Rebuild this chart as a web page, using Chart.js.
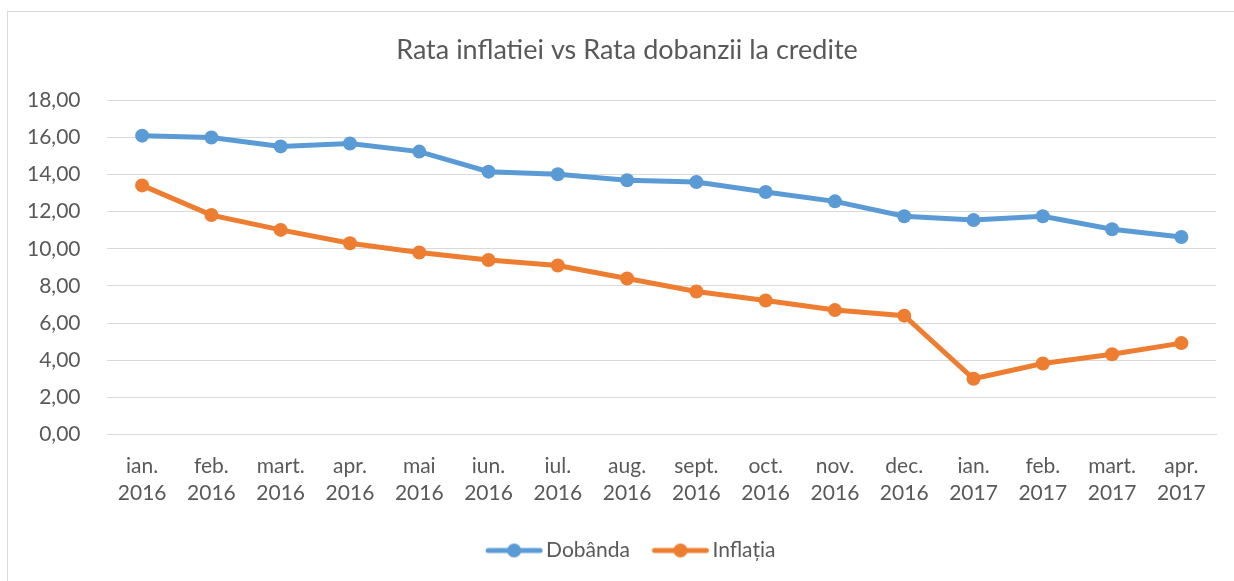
<!DOCTYPE html>
<html><head><meta charset="utf-8">
<script src="https://cdn.jsdelivr.net/npm/chart.js@4/dist/chart.umd.min.js"></script>
<style>
html,body{margin:0;padding:0;background:#fff;overflow:hidden;}
#wrap{position:absolute;left:0;top:0;width:1234px;height:581px;}
#bt{position:absolute;left:7px;top:11px;width:1227px;height:1px;background:#d9d9d9;}
#bl{position:absolute;left:7px;top:11px;width:1px;height:570px;background:#d9d9d9;}
canvas{display:block;}
</style></head><body>
<div id="wrap"><canvas id="c"></canvas></div>
<div id="bt"></div><div id="bl"></div>
<script>
const categories = [["ian.","2016"],["feb.","2016"],["mart.","2016"],["apr.","2016"],["mai","2016"],["iun.","2016"],["iul.","2016"],["aug.","2016"],["sept.","2016"],["oct.","2016"],["nov.","2016"],["dec.","2016"],["ian.","2017"],["feb.","2017"],["mart.","2017"],["apr.","2017"]];
const dobanda = [16.10, 16.00, 15.52, 15.68, 15.24, 14.16, 14.02, 13.70, 13.60, 13.06, 12.56, 11.76, 11.55, 11.76, 11.06, 10.64];
const inflatia = [13.42, 11.82, 11.02, 10.30, 9.80, 9.40, 9.10, 8.40, 7.70, 7.22, 6.70, 6.40, 3.00, 3.82, 4.32, 4.92];
const seriesNames = ["Dobânda", "Inflația"];
const colors = ["#5B9BD5", "#ED7D31"];

function legendIcon(color){
  const cv = document.createElement('canvas');
  cv.width = 72; cv.height = 16;
  const g = cv.getContext('2d');
  g.strokeStyle = color; g.lineWidth = 5; g.lineCap = 'round';
  g.beginPath(); g.moveTo(17,8); g.lineTo(69,8); g.stroke();
  g.fillStyle = color; g.beginPath(); g.arc(43,8,7,0,Math.PI*2); g.fill();
  return cv;
}
const icons = colors.map(legendIcon);

const shiftPlugin = {
  id: 'shiftCentered',
  afterLayout(chart) {
    for (const b of [chart.titleBlock, chart.legend]) {
      if (b) { b.left += 19; b.right += 19; }
    }
  }
};

const font = "Lato, 'Open Sans', sans-serif";
new Chart(document.getElementById('c'), {
  type: 'line',
  data: {
    labels: categories,
    datasets: [
      {label: seriesNames[0], data: dobanda, borderColor: colors[0], backgroundColor: colors[0], borderWidth: 5, pointRadius: 7, pointHoverRadius: 7, pointBackgroundColor: colors[0], pointBorderWidth: 0, tension: 0},
      {label: seriesNames[1], data: inflatia, borderColor: colors[1], backgroundColor: colors[1], borderWidth: 5, pointRadius: 7, pointHoverRadius: 7, pointBackgroundColor: colors[1], pointBorderWidth: 0, tension: 0}
    ]
  },
  plugins: [shiftPlugin],
  options: {
    responsive: true, maintainAspectRatio: false, animation: false,
    layout: {padding: {left: 0, right: 18, top: 0, bottom: 10}},
    plugins: {
      title: {display: true, text: 'Rata inflatiei vs Rata dobanzii la credite', color: '#595959', font: {family: font, size: 27, weight: 'normal'}, padding: {top: 34, bottom: 34}},
      legend: {position: 'bottom', labels: {usePointStyle: true, pointStyleWidth: 57, color: '#595959', font: {family: font, size: 21}, padding: 15,
        generateLabels: (chart) => chart.data.datasets.map((d, i) => ({text: d.label, pointStyle: icons[i], fillStyle: colors[i], strokeStyle: colors[i], lineWidth: 0, datasetIndex: i, fontColor: '#595959'}))}},
      tooltip: {enabled: false}
    },
    scales: {
      x: {offset: true, grid: {display: false, drawTicks: false}, border: {display: true, color: '#d9d9d9', width: 1},
        ticks: {color: '#595959', font: {family: font, size: 21, lineHeight: 1.3}, padding: 18, maxRotation: 0, autoSkip: false}},
      y: {min: 0, max: 18, grid: {color: '#d9d9d9', lineWidth: 1, drawTicks: false}, border: {display: false},
        ticks: {stepSize: 2, color: '#595959', font: {family: font, size: 21}, padding: 27,
          callback: (v) => v.toFixed(2).replace('.', ',')}}
    }
  }
});
</script></body></html>
